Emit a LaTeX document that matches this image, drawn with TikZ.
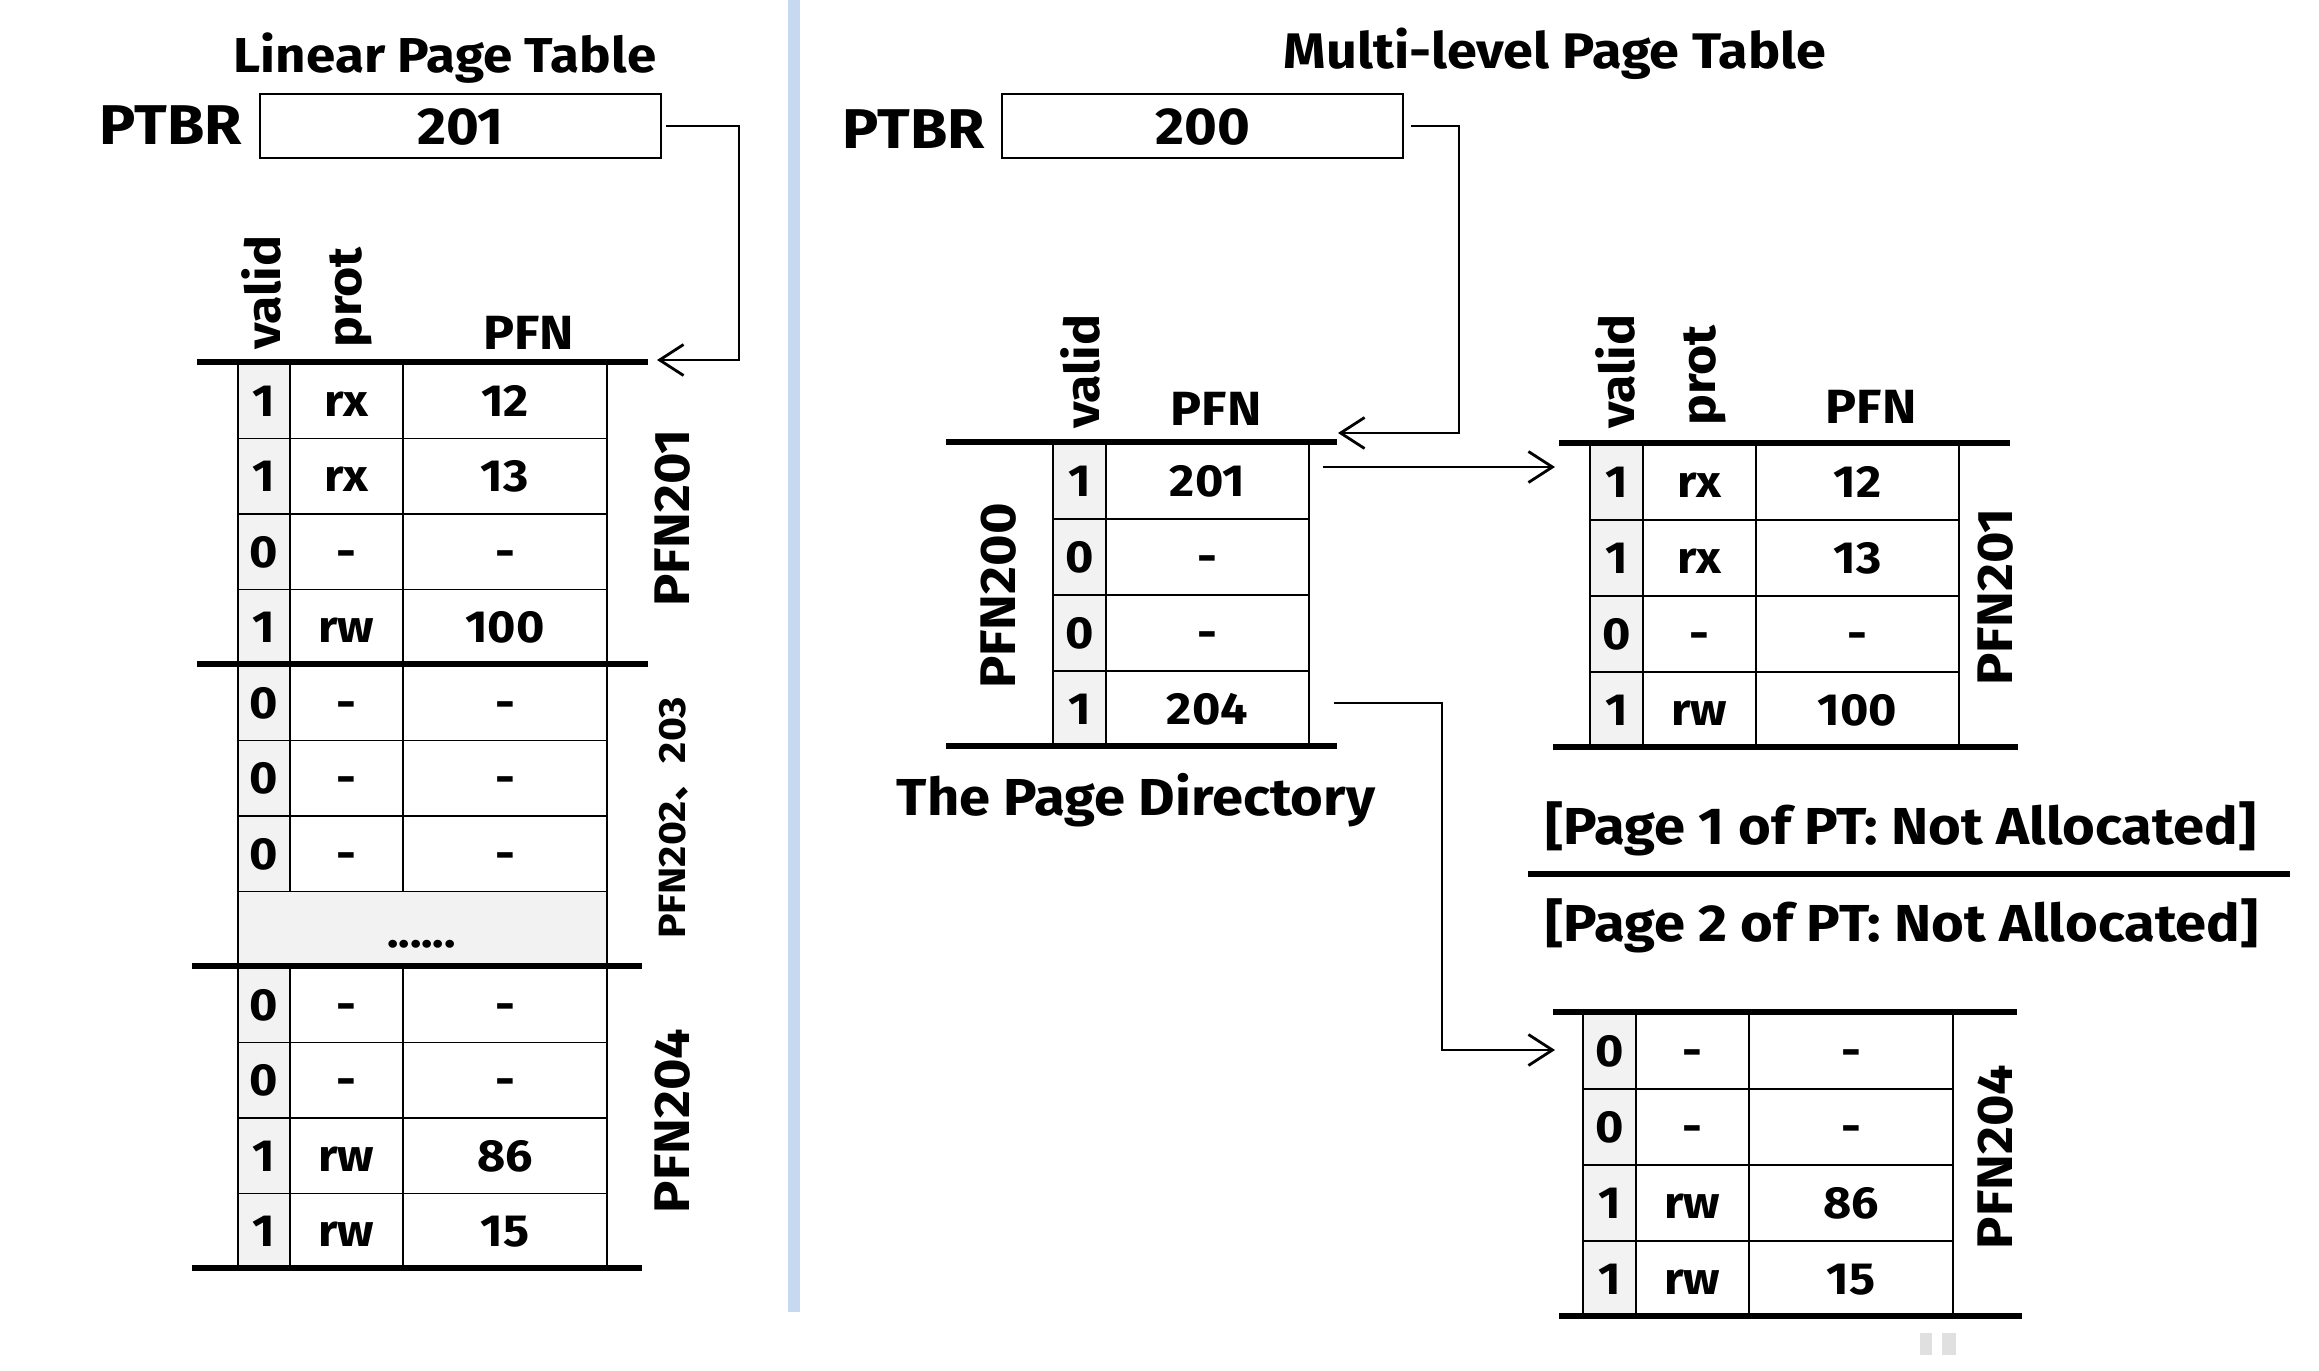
\documentclass[tikz,border=0pt]{standalone}
\usepackage{fontspec}
\setmainfont{Fira Sans}[FakeStretch=1.08]
\newfontfamily\cjk{Noto Sans CJK SC}
\usetikzlibrary{arrows.meta}
\definecolor{cellgray}{HTML}{F2F2F2}
\definecolor{sepblue}{HTML}{C6D9F0}
\newcommand\fsz[1]{\fontsize{#1}{#1}\selectfont\bfseries}
\begin{document}
\begin{tikzpicture}[x=1pt,y=-1pt,
  cellbase/.style={draw, line width=1.8pt, inner sep=0pt, minimum height=#1, anchor=north west,
    font=\fsz{45}, text height=31.5pt, text depth=0pt},
  cellbase/.default=75.5pt,
  thick rule/.style={line width=6pt},
  lbl/.style={inner sep=0pt},
  conn/.style={line width=2pt, -{Straight Barb[length=24pt,width=31pt,line width=2.8pt]}},
]
\useasboundingbox (0,0) rectangle (2319,1371);
\fill[white] (0,0) rectangle (2319,1371);

% separator
\fill[sepblue] (788,0) rectangle (800,1312);

% ---------------- Linear page table ----------------
\node[lbl, font=\fsz{49}, anchor=base] (titleL) at (445,72) {Linear Page Table};
\node[lbl, font=\fsz{56}, anchor=base east] (ptbrLl) at (242,144) {PTBR};
\node[draw, line width=2pt, minimum width=401pt, minimum height=64pt, inner sep=0pt,
      anchor=north west, font=\fsz{52}, text height=37pt, text depth=0pt] (ptbrL) at (259,93) {201};

\node[lbl, font=\fsz{48}, rotate=90, anchor=base west] (Lhv) at (280,350) {valid};
\node[lbl, font=\fsz{48}, rotate=90, anchor=base west] (Lhp) at (361,348) {prot};
\node[lbl, font=\fsz{48}, anchor=base] (Lhf) at (529,349) {PFN};

\foreach \v/\p/\f/\i in {1/rx/12/0, 1/rx/13/1, 0/-/-/2, 1/rw/100/3,
                         0/-/-/4, 0/-/-/5, 0/-/-/6,
                         0/-/-/8, 0/-/-/9, 1/rw/86/10, 1/rw/15/11}{
  \node[cellbase, fill=cellgray, minimum width=52pt] (L-\i-v) at (237,{362+\i*75.5}) {\v};
  \node[cellbase, minimum width=113pt] (L-\i-p) at (289,{362+\i*75.5}) {\p};
  \node[cellbase, minimum width=204pt] (L-\i-f) at (402,{362+\i*75.5}) {\f};
}
\node[cellbase, fill=cellgray, minimum width=369pt] (L-dots) at (237,890.5) {};
\node[lbl, font=\fsz{44}, anchor=base] (L-dotstxt) at (421.5,947) {......};

\draw[thick rule] (197,362) -- (648,362);
\draw[thick rule] (197,664) -- (648,664);
\draw[thick rule] (192,966) -- (642,966);
\draw[thick rule] (192,1268) -- (642,1268);

\node[lbl, font=\fsz{50}, rotate=90] (Ls1) at (673,518) {PFN201};
\node[lbl, font=\fsz{38}, rotate=90] (Ls2) at (674,818) {PFN202{\cjk\bfseries 、}203};
\node[lbl, font=\fsz{50}, rotate=90] (Ls3) at (673,1121) {PFN204};

\coordinate (LtipA) at (657,360);
\draw[conn] ([xshift=4pt]ptbrL.east) -- ([xshift=77pt]ptbrL.east) |- (LtipA);

% ---------------- Multi-level page table ----------------
\node[lbl, font=\fsz{50}, anchor=base] (titleR) at (1555,68) {Multi-level Page Table};
\node[lbl, font=\fsz{56}, anchor=base east] (ptbrRl) at (985,148) {PTBR};
\node[draw, line width=2pt, minimum width=401pt, minimum height=64pt, inner sep=0pt,
      anchor=north west, font=\fsz{52}, text height=37pt, text depth=0pt] (ptbrR) at (1001,93) {200};

% page directory
\node[lbl, font=\fsz{48}, rotate=90, anchor=base west] (Dhv) at (1099,429) {valid};
\node[lbl, font=\fsz{48}, anchor=base] (Dhf) at (1216,425) {PFN};
\foreach \v/\f/\i in {1/201/0, 0/-/1, 0/-/2, 1/204/3}{
  \node[cellbase=76pt, fill=cellgray, minimum width=53pt] (D-\i-v) at (1052,{442+\i*76}) {\v};
  \node[cellbase=76pt, minimum width=203pt] (D-\i-f) at (1105,{442+\i*76}) {\f};
}
\draw[thick rule] (946,442) -- (1337,442);
\draw[thick rule] (946,746) -- (1337,746);
\node[lbl, font=\fsz{50}, rotate=90] (Ds) at (999,596) {PFN200};
\node[lbl, font=\fsz{52}, anchor=base] (Dcap) at (1136,815) {The Page Directory};

% page table page 1 (PFN201)
\node[lbl, font=\fsz{48}, rotate=90, anchor=base west] (Ahv) at (1634,429) {valid};
\node[lbl, font=\fsz{48}, rotate=90, anchor=base west] (Ahp) at (1715,426) {prot};
\node[lbl, font=\fsz{48}, anchor=base] (Ahf) at (1871,423) {PFN};
\foreach \v/\p/\f/\i in {1/rx/12/0, 1/rx/13/1, 0/-/-/2, 1/rw/100/3}{
  \node[cellbase=76pt, fill=cellgray, minimum width=53pt] (A-\i-v) at (1589,{443+\i*76}) {\v};
  \node[cellbase=76pt, minimum width=113pt] (A-\i-p) at (1642,{443+\i*76}) {\p};
  \node[cellbase=76pt, minimum width=203pt] (A-\i-f) at (1755,{443+\i*76}) {\f};
}
\draw[thick rule] (1559,443) -- (2010,443);
\draw[thick rule] (1553,747) -- (2018,747);
\node[lbl, font=\fsz{50}, rotate=90] (As) at (1996,597) {PFN201};

% not allocated pages
\node[lbl, font=\fsz{52}, anchor=base] (na1) at (1901,844) {[Page 1 of PT: Not Allocated]};
\draw[thick rule] (1528,874) -- (2290,874);
\node[lbl, font=\fsz{52}, anchor=base] (na2) at (1902,941) {[Page 2 of PT: Not Allocated]};

% page table page 4 (PFN204)
\foreach \v/\p/\f/\i in {0/-/-/0, 0/-/-/1, 1/rw/86/2, 1/rw/15/3}{
  \node[cellbase=76pt, fill=cellgray, minimum width=53pt] (B-\i-v) at (1582,{1012+\i*76}) {\v};
  \node[cellbase=76pt, minimum width=113pt] (B-\i-p) at (1635,{1012+\i*76}) {\p};
  \node[cellbase=76pt, minimum width=204pt] (B-\i-f) at (1748,{1012+\i*76}) {\f};
}
\draw[thick rule] (1553,1012) -- (2017,1012);
\draw[thick rule] (1559,1316) -- (2022,1316);
\node[lbl, font=\fsz{50}, rotate=90] (Bs) at (1996,1157) {PFN204};

% faint marks
\fill[black!12] (1920,1333) rectangle (1932,1355);
\fill[black!12] (1942,1333) rectangle (1956,1355);

% connectors
\coordinate (RtipA) at (1338,433);
\draw[conn] ([xshift=7pt]ptbrR.east) -- ([xshift=55pt]ptbrR.east) |- (RtipA);
\coordinate (D1out) at (1323,467);
\coordinate (A1in) at (1555,467);
\draw[conn] (D1out) -- (A1in);
\coordinate (D4out) at (1334,703);
\coordinate (B1in) at (1555,1050);
\draw[conn] (D4out) -- ++(108,0) |- (B1in);
\end{tikzpicture}
\end{document}
